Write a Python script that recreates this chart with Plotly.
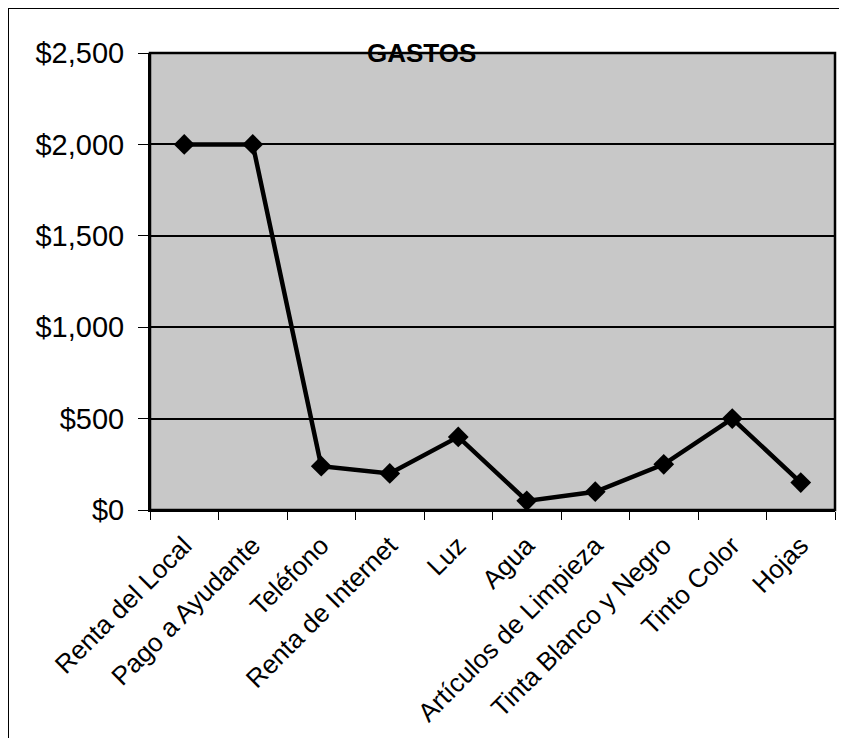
import plotly.graph_objects as go

categories = ["Renta del Local", "Pago a Ayudante", "Teléfono", "Renta de Internet", "Luz",
              "Agua", "Artículos de Limpieza", "Tinta Blanco y Negro", "Tinto Color", "Hojas"]
gastos = [2000, 2000, 240, 200, 400, 50, 100, 250, 500, 150]
y_ticks = [0, 500, 1000, 1500, 2000, 2500]
y_tick_labels = ["$0", "$500", "$1,000", "$1,500", "$2,000", "$2,500"]

# page has an 8px body margin; compensate so the plot area lands at x 150-835, y 53-510
W, H = 831, 732
L, R, T, B = 142, 4, 45, 230
pw, ph = W - L - R, H - T - B

fig = go.Figure()
fig.add_trace(go.Scatter(
    x=categories, y=gastos, mode="lines+markers",
    line=dict(color="black", width=4.5),
    marker=dict(symbol="diamond", size=16, color="black"),
    cliponaxis=False, showlegend=False,
))

fig.update_layout(
    width=W, height=H,
    margin=dict(l=L, r=R, t=T, b=B),
    paper_bgcolor="white", plot_bgcolor="#c8c8c8",
    font=dict(family="Liberation Sans, Arial, sans-serif", color="black"),
    xaxis=dict(
        type="category", tickangle=-45, tickson="boundaries",
        ticks="outside", ticklen=8, tickcolor="black", tickwidth=1,
        showline=True, linecolor="black", linewidth=2, mirror=False,
        showgrid=False, tickfont=dict(size=26), range=[-0.5, 9.5],
        ticklabelstandoff=8,
    ),
    yaxis=dict(
        range=[0, 2500], tickvals=y_ticks, ticktext=y_tick_labels,
        ticks="outside", ticklen=10, tickcolor="black", tickwidth=1,
        showline=True, linecolor="black", linewidth=2,
        showgrid=True, gridcolor="black", gridwidth=1.5,
        tickfont=dict(size=29), zeroline=False, ticklabelstandoff=8,
    ),
    shapes=[
        dict(type="rect", xref="paper", yref="paper", x0=0, x1=1, y0=0, y1=1,
             line=dict(color="black", width=2.5)),
        dict(type="line", xref="paper", yref="paper", x0=-L / pw, x1=-L / pw,
             y0=-(B - 2) / ph, y1=(ph + T) / ph, line=dict(color="black", width=2)),
        dict(type="line", xref="paper", yref="paper", x0=-L / pw, x1=(pw + R) / pw,
             y0=(ph + T) / ph, y1=(ph + T) / ph, line=dict(color="black", width=2)),
    ],
    annotations=[
        dict(text="<b>GASTOS</b>", xref="paper", yref="paper", x=(421 - 150) / pw, y=1,
             yanchor="middle", xanchor="center", showarrow=False,
             font=dict(size=26, color="black")),
    ],
)

fig.write_html("out.html")
